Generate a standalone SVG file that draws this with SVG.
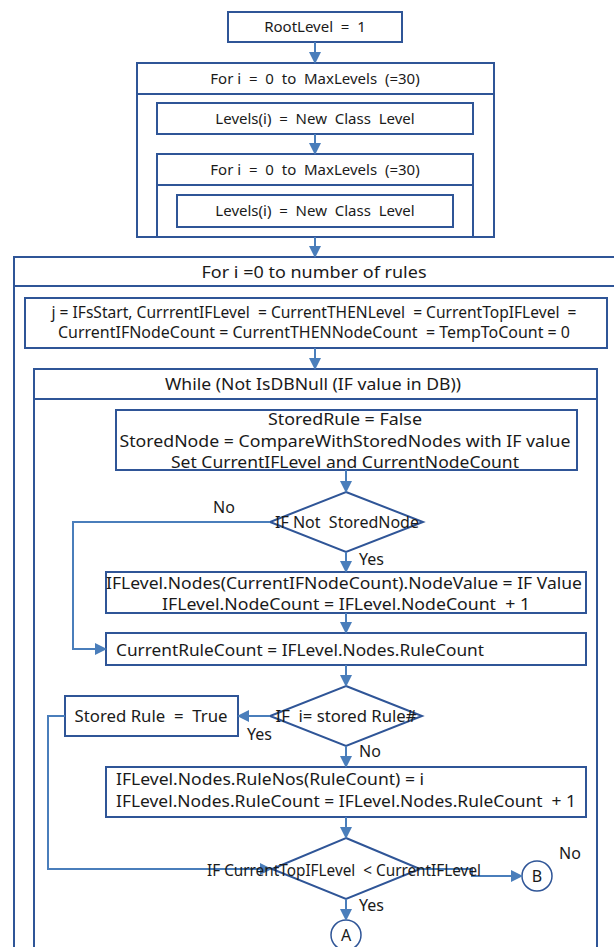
<svg xmlns="http://www.w3.org/2000/svg" width="614" height="947" viewBox="0 0 614 947">
  <style>
    .box { fill: #ffffff; stroke: #2F5597; stroke-width: 2; }
    .frame { fill: none; stroke: #2F5597; stroke-width: 2; }
    .dia { fill: #ffffff; stroke: #2F5597; stroke-width: 2; }
    .circ { fill: #ffffff; stroke: #2F5597; stroke-width: 1.5; }
    .conn { fill: none; stroke: #4A7EBB; stroke-width: 2; }
    text { font-family: "Noto Sans", "Open Sans", "Noto Sans CJK KR", sans-serif; font-size: 15px; fill: #1a1a1a; white-space: pre; }
    .c { text-anchor: middle; }
    .big { font-size: 17px; }
    .mid { font-size: 16px; }
  </style>
  <defs>
    <marker id="arrow" markerWidth="12" markerHeight="12" refX="10" refY="6" orient="auto" markerUnits="userSpaceOnUse">
      <path d="M0,0 L12,6 L0,12 Z" fill="#4A7EBB"/>
    </marker>
  </defs>

  <rect width="614" height="947" fill="#ffffff"/>

  <!-- loop frames -->
  <g id="loop-rules">
    <rect class="frame" x="14" y="257" width="620" height="720"/>
    <line class="frame" x1="14" y1="286" x2="634" y2="286"/>
    <text class="c big" x="314" y="278" textLength="225" lengthAdjust="spacingAndGlyphs">For i =0 to number of rules</text>
  </g>
  <g id="loop-while">
    <rect class="frame" x="34" y="369" width="563" height="600"/>
    <line class="frame" x1="34" y1="399" x2="597" y2="399"/>
    <text class="c big" x="313" y="390" textLength="296" lengthAdjust="spacingAndGlyphs">While (Not IsDBNull (IF value in DB))</text>
  </g>

  <g id="root-level">
    <rect class="box" x="228" y="12" width="174" height="30"/>
    <text class="c" x="315" y="32">RootLevel  =  1</text>
  </g>

  <g id="loop-levels-outer">
    <rect class="frame" x="137" y="63" width="357" height="174"/>
    <line class="frame" x1="137" y1="94" x2="494" y2="94"/>
    <text class="c" x="315" y="84">For i  =  0  to  MaxLevels  (=30)</text>
  </g>
  <g id="levels-new-1">
    <rect class="box" x="157" y="103" width="316" height="31"/>
    <text class="c" x="315" y="124">Levels(i)  =  New  Class  Level</text>
  </g>
  <g id="loop-levels-inner">
    <rect class="frame" x="157" y="154" width="316" height="83"/>
    <line class="frame" x1="157" y1="185" x2="473" y2="185"/>
    <text class="c" x="315" y="175">For i  =  0  to  MaxLevels  (=30)</text>
  </g>
  <g id="levels-new-2">
    <rect class="box" x="177" y="195" width="276" height="32"/>
    <text class="c" x="315" y="216">Levels(i)  =  New  Class  Level</text>
  </g>

  <g id="init-counters">
    <rect class="box" x="25" y="298" width="582" height="50"/>
    <text class="c mid" x="314" y="318" textLength="525" lengthAdjust="spacingAndGlyphs">j = IFsStart, CurrrentIFLevel  = CurrentTHENLevel  = CurrentTopIFLevel  =</text>
    <text class="c mid" x="314" y="338" textLength="512" lengthAdjust="spacingAndGlyphs">CurrentIFNodeCount = CurrentTHENNodeCount  = TempToCount = 0</text>
  </g>

  <g id="compare-nodes">
    <rect class="box" x="116" y="410" width="461" height="60"/>
    <text class="c big" x="345" y="425" textLength="154" lengthAdjust="spacingAndGlyphs">StoredRule = False</text>
    <text class="c big" x="345" y="447" textLength="451" lengthAdjust="spacingAndGlyphs">StoredNode = CompareWithStoredNodes with IF value</text>
    <text class="c big" x="345" y="468" textLength="348" lengthAdjust="spacingAndGlyphs">Set CurrentIFLevel and CurrentNodeCount</text>
  </g>

  <g id="if-not-stored-node">
    <polygon class="dia" points="346,492 423,522 346,552 270,522"/>
    <text class="c mid" x="347" y="528" textLength="144" lengthAdjust="spacingAndGlyphs">IF Not  StoredNode</text>
  </g>

  <g id="store-node">
    <rect class="box" x="106" y="572" width="480" height="41"/>
    <text class="c big" x="344" y="589" textLength="476" lengthAdjust="spacingAndGlyphs">IFLevel.Nodes(CurrentIFNodeCount).NodeValue = IF Value</text>
    <text class="c big" x="346" y="610" textLength="368" lengthAdjust="spacingAndGlyphs">IFLevel.NodeCount = IFLevel.NodeCount  + 1</text>
  </g>

  <g id="rule-count">
    <rect class="box" x="106" y="633" width="480" height="32"/>
    <text class="big" x="116" y="656" textLength="368" lengthAdjust="spacingAndGlyphs">CurrentRuleCount = IFLevel.Nodes.RuleCount</text>
  </g>

  <g id="if-stored-rule">
    <polygon class="dia" points="346,686 422,716 346,746 270,716"/>
    <text class="c mid" x="346" y="722" textLength="141" lengthAdjust="spacingAndGlyphs">IF  i= stored Rule#</text>
  </g>

  <g id="stored-rule-true">
    <rect class="box" x="65" y="696" width="173" height="40"/>
    <text class="c big" x="151" y="722" textLength="153" lengthAdjust="spacingAndGlyphs">Stored Rule  =  True</text>
  </g>

  <g id="store-rule">
    <rect class="box" x="106" y="767" width="480" height="50"/>
    <text class="big" x="116" y="785" textLength="308" lengthAdjust="spacingAndGlyphs">IFLevel.Nodes.RuleNos(RuleCount) = i</text>
    <text class="big" x="116" y="807" textLength="460" lengthAdjust="spacingAndGlyphs">IFLevel.Nodes.RuleCount = IFLevel.Nodes.RuleCount  + 1</text>
  </g>

  <g id="if-top-level">
    <polygon class="dia" points="346,838 420,869 346,899 272,869"/>
  </g>

  <g id="connector-a">
    <circle class="circ" cx="346" cy="935" r="15"/>
    <text class="c mid" x="346" y="941">A</text>
  </g>
  <g id="connector-b">
    <circle class="circ" cx="537" cy="876" r="15"/>
    <text class="c mid" x="537" y="882">B</text>
  </g>

  <!-- connectors -->
  <g id="connectors">
    <line class="conn" x1="315" y1="42" x2="315" y2="62" marker-end="url(#arrow)"/>
    <line class="conn" x1="315" y1="134" x2="315" y2="153" marker-end="url(#arrow)"/>
    <line class="conn" x1="315" y1="237" x2="315" y2="256" marker-end="url(#arrow)"/>
    <line class="conn" x1="315" y1="348" x2="315" y2="368" marker-end="url(#arrow)"/>
    <line class="conn" x1="346" y1="470" x2="346" y2="491" marker-end="url(#arrow)"/>
    <polyline class="conn" points="270,522 73,522 73,649 105,649" marker-end="url(#arrow)"/>
    <line class="conn" x1="346" y1="552" x2="346" y2="571" marker-end="url(#arrow)"/>
    <line class="conn" x1="346" y1="613" x2="346" y2="632" marker-end="url(#arrow)"/>
    <line class="conn" x1="346" y1="665" x2="346" y2="685" marker-end="url(#arrow)"/>
    <line class="conn" x1="270" y1="716" x2="239" y2="716" marker-end="url(#arrow)"/>
    <line class="conn" x1="346" y1="746" x2="346" y2="766" marker-end="url(#arrow)"/>
    <polyline class="conn" points="65,716 48,716 48,869 270,869" marker-end="url(#arrow)"/>
    <line class="conn" x1="346" y1="817" x2="346" y2="837" marker-end="url(#arrow)"/>
    <polyline class="conn" points="420,869 472,869 472,876 521,876" marker-end="url(#arrow)"/>
    <line class="conn" x1="346" y1="899" x2="346" y2="919" marker-end="url(#arrow)"/>
  </g>

  <!-- branch labels -->
  <g id="labels">
    <text class="mid" x="344" y="876" text-anchor="middle" textLength="274" lengthAdjust="spacingAndGlyphs">IF CurrentTopIFLevel  &lt; CurrentIFLevel</text>
    <text class="mid" x="213" y="513">No</text>
    <text class="mid" x="359" y="565">Yes</text>
    <text class="mid" x="247" y="740">Yes</text>
    <text class="mid" x="359" y="757">No</text>
    <text class="mid" x="559" y="859">No</text>
    <text class="mid" x="359" y="911">Yes</text>
  </g>
</svg>
